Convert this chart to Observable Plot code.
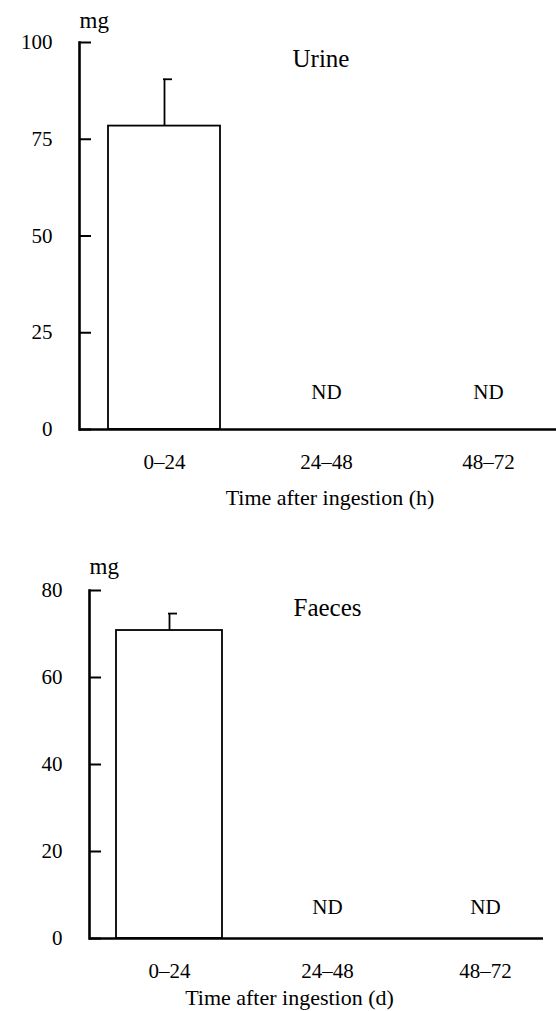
<!DOCTYPE html>
<html><head><meta charset="utf-8">
<script src="https://cdn.jsdelivr.net/npm/d3@7"></script>
<script src="https://cdn.jsdelivr.net/npm/@observablehq/plot@0.6"></script>
<style>
body{margin:0;background:#fff;}
#c svg{display:block;}
</style>
</head><body><div id="c"></div>
<script>
// Data
const periods = ["0–24", "24–48", "48–72"];
const urineMean = [78.4, null, null];
const urineSD = [12.1, null, null];
const faecesMean = [70.8, null, null];
const faecesSD = [3.9, null, null];
const urineTicks = [0, 25, 50, 75, 100];
const faecesTicks = [0, 20, 40, 60, 80];
const panelTitles = ["Urine", "Faeces"];
const xTitles = ["Time after ingestion (h)", "Time after ingestion (d)"];
const yUnit = "mg";
const ndText = "ND";

function rows(mean, sd) {
  return periods.map((p, i) => ({period: p, mean: mean[i], hi: mean[i] == null ? null : mean[i] + sd[i]}));
}

const FONT = "Liberation Serif, Times New Roman, serif";

function panel(o) {
  const data = rows(o.mean, o.sd);
  const found = data.filter(d => d.mean != null);
  const nd = data.filter(d => d.mean == null);
  return Plot.plot({
    width: 556,
    height: o.height,
    marginTop: o.mt, marginBottom: o.mb, marginLeft: o.ml, marginRight: o.mr,
    style: {fontFamily: FONT, fontSize: "21px", color: "#000", background: "#fff", overflow: "visible"},
    x: {type: "band", domain: periods, range: o.xRange, paddingInner: o.pi, paddingOuter: o.po, label: null},
    y: {domain: [0, o.ticks[o.ticks.length - 1]], label: null},
    marks: [
      Plot.axisY({ticks: o.ticks, tickSize: -12, tickPadding: 39, strokeWidth: 2, fontSize: 21, label: null}),
      Plot.axisX({tickSize: 0, tickPadding: 25, fontSize: 21, label: null}),
      Plot.frame({anchor: "left", stroke: "#000", strokeWidth: 2.6}),
      Plot.barY(found, {x: "period", y: "mean", fill: "#fff", stroke: "#000", strokeWidth: 1.8}),
      Plot.ruleY([0], {stroke: "#000", strokeWidth: 2.6}),
      Plot.ruleX(found, {x: "period", y1: "mean", y2: "hi", stroke: "#000", strokeWidth: 1.8}),
      Plot.tickY(found, {x: "period", y: "hi", stroke: "#000", strokeWidth: 1.8, insetLeft: o.capL, insetRight: o.capR}),
      Plot.text(nd, {x: "period", y: () => 0, text: () => ndText, dy: o.ndDy, fontSize: 21}),
      Plot.text([yUnit], {frameAnchor: "top-left", lineAnchor: "middle", text: d => d, dy: o.unitDy, fontSize: 23}),
      Plot.text([o.title], {frameAnchor: "top", lineAnchor: "middle", text: d => d, dx: o.titleDx, dy: o.titleDy, fontSize: 25}),
      Plot.text([o.xTitle], {frameAnchor: "bottom", lineAnchor: "middle", text: d => d, dx: o.xtDx, dy: o.xtDy, fontSize: 22})
    ]
  });
}

const c = document.getElementById("c");
c.append(panel({
  mean: urineMean, sd: urineSD, ticks: urineTicks, title: panelTitles[0], xTitle: xTitles[0],
  height: 520, mt: 42, mb: 91, ml: 79, mr: 0,
  xRange: [82, 569], pi: 0.31, po: 0.155, capL: 55, capR: 48,
  ndDy: -37, unitDy: -22, titleDx: 3, titleDy: 16, xtDx: 12, xtDy: 68
}));
c.append(panel({
  mean: faecesMean, sd: faecesSD, ticks: faecesTicks, title: panelTitles[1], xTitle: xTitles[1],
  height: 491, mt: 70, mb: 73, ml: 89, mr: 13,
  xRange: [89, 564], pi: 0.331, po: 0.1655, capL: 52, capR: 45,
  ndDy: -31, unitDy: -24, titleDx: 11, titleDy: 17, xtDx: -27, xtDy: 59
}));
</script>
</body></html>
